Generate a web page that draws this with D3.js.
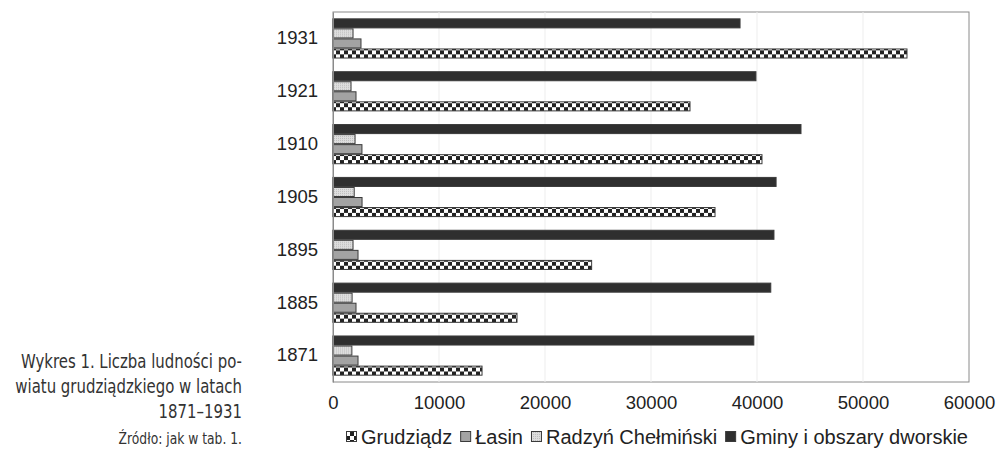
<!DOCTYPE html>
<html>
<head>
<meta charset="utf-8">
<script src="https://cdn.jsdelivr.net/npm/d3@7"></script>
<style>
  html, body { margin: 0; padding: 0; background: #fff; }
  svg { display: block; }
</style>
</head>
<body>
<svg id="chart" width="997" height="459"></svg>
<script>
// Census years (top of chart = latest)
const years = ["1871", "1885", "1895", "1905", "1910", "1921", "1931"];

// Population by unit
const grudziadz = [14060, 17360, 24400, 36040, 40470, 33680, 54150];
const lasin     = [2360, 2170, 2360, 2740, 2730, 2170, 2640];
const radzyn    = [1780, 1800, 1890, 2000, 2080, 1700, 1890];
const gminy     = [39700, 41300, 41600, 41800, 44150, 39900, 38400];

const seriesNames = ["Grudziądz", "Łasin", "Radzyń Chełmiński", "Gminy i obszary dworskie"];
const xTicks = [0, 10000, 20000, 30000, 40000, 50000, 60000];

const captionLines = ["Wykres 1. Liczba ludności po-", "wiatu grudziądzkiego w latach", "1871–1931"];
const sourceLine = "Źródło: jak w tab. 1.";

const series = [
  { name: seriesNames[0], values: grudziadz, fill: "url(#checker)" },
  { name: seriesNames[1], values: lasin,     fill: "#a3a3a3" },
  { name: seriesNames[2], values: radzyn,    fill: "url(#dots)" },
  { name: seriesNames[3], values: gminy,     fill: "#2f2f2f" }
];

const svg = d3.select("#chart");
const plot = { left: 333, right: 969, top: 12, bottom: 382 };
const sans = "Liberation Sans, Arial, Helvetica, sans-serif";

// Patterns
const defs = svg.append("defs");
const chk = defs.append("pattern").attr("id", "checker")
  .attr("patternUnits", "userSpaceOnUse").attr("width", 8).attr("height", 8);
chk.append("rect").attr("width", 8).attr("height", 8).attr("fill", "#fff");
chk.append("rect").attr("x", 0).attr("y", 0).attr("width", 4).attr("height", 4).attr("fill", "#222");
chk.append("rect").attr("x", 4).attr("y", 4).attr("width", 4).attr("height", 4).attr("fill", "#222");

const dots = defs.append("pattern").attr("id", "dots")
  .attr("patternUnits", "userSpaceOnUse").attr("width", 2).attr("height", 2);
dots.append("rect").attr("width", 2).attr("height", 2).attr("fill", "#dedede");
dots.append("rect").attr("width", 1).attr("height", 1).attr("fill", "#bdbdbd");

const x = d3.scaleLinear().domain([0, 60000]).range([plot.left, plot.right]);
const y0 = d3.scaleBand().domain(years.slice().reverse())
  .range([plot.top, plot.bottom]).paddingInner(0.24).paddingOuter(0.12);
// Within a year: last series on top
const y1 = d3.scaleBand().domain(series.map(s => s.name).reverse())
  .range([0, y0.bandwidth()]);

// Plot frame
svg.append("rect")
  .attr("x", plot.left).attr("y", plot.top)
  .attr("width", plot.right - plot.left).attr("height", plot.bottom - plot.top)
  .attr("fill", "#fff").attr("stroke", "#8a8a8a").attr("stroke-width", 1);

// Faint vertical gridlines
svg.append("g").selectAll("line")
  .data(xTicks.slice(1, -1)).join("line")
  .attr("x1", d => x(d)).attr("x2", d => x(d))
  .attr("y1", plot.top).attr("y2", plot.bottom)
  .attr("stroke", "#ededed").attr("stroke-width", 1);

// Bars
const groups = svg.append("g").selectAll("g")
  .data(years).join("g")
  .attr("transform", d => `translate(0,${y0(d)})`);

groups.selectAll("rect")
  .data((yr, i) => series.map(s => ({ name: s.name, fill: s.fill, value: s.values[i] })))
  .join("rect")
  .attr("x", x(0))
  .attr("y", d => y1(d.name) + 0.5)
  .attr("width", d => x(d.value) - x(0))
  .attr("height", y1.bandwidth() - 1)
  .attr("fill", d => d.fill)
  .attr("stroke", "#3a3a3a")
  .attr("stroke-width", 1);

// Axes
const xAxis = svg.append("g")
  .attr("transform", `translate(0,${plot.bottom})`)
  .call(d3.axisBottom(x).tickValues(xTicks).tickSize(0).tickPadding(14).tickFormat(d3.format("d")));
xAxis.select(".domain").remove();
xAxis.selectAll("text")
  .attr("font-family", sans)
  .attr("font-size", 18.5).attr("fill", "#222");

const yAxis = svg.append("g")
  .attr("transform", `translate(${plot.left},0)`)
  .call(d3.axisLeft(y0).tickSize(0).tickPadding(15));
yAxis.select(".domain").attr("stroke", "#8a8a8a");
yAxis.selectAll("text")
  .attr("font-family", sans)
  .attr("font-size", 18.5).attr("fill", "#222");

// Legend
const legend = svg.append("g").attr("transform", "translate(346,444)");
let lx = 0;
series.forEach(s => {
  const item = legend.append("g").attr("transform", `translate(${lx},0)`);
  item.append("rect").attr("x", 0.5).attr("y", -12.5).attr("width", 10).attr("height", 10)
    .attr("fill", s.fill).attr("stroke", "#3a3a3a").attr("stroke-width", 1);
  const t = item.append("text").attr("x", 15).attr("y", 0)
    .attr("font-family", sans)
    .attr("font-size", 20).attr("fill", "#222").text(s.name);
  lx += 15 + t.node().getComputedTextLength() + 8;
});

// Caption on the left, set in a condensed face
const cap = svg.append("g")
  .attr("transform", "translate(242,0) scale(0.83,1)")
  .attr("font-family", "Liberation Sans Narrow, DejaVu Sans Condensed, sans-serif")
  .attr("fill", "#333").attr("text-anchor", "end");
captionLines.forEach((line, i) => {
  cap.append("text").attr("x", 0).attr("y", 368 + i * 25)
    .attr("font-size", 20).text(line);
});
cap.append("text").attr("x", 0).attr("y", 444).attr("font-size", 16.5).text(sourceLine);
</script>
</body>
</html>
